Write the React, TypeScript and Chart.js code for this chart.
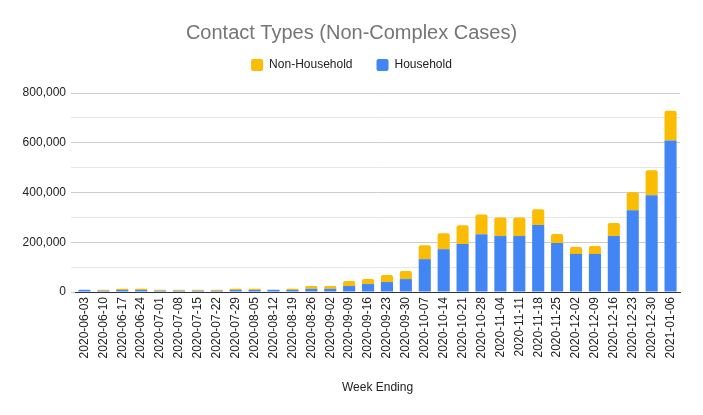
import React, { useEffect, useRef } from "react";
import { Chart, registerables } from "chart.js";

Chart.register(...registerables);

const categories = [
  "2020-06-03", "2020-06-10", "2020-06-17", "2020-06-24", "2020-07-01", "2020-07-08",
  "2020-07-15", "2020-07-22", "2020-07-29", "2020-08-05", "2020-08-12", "2020-08-19",
  "2020-08-26", "2020-09-02", "2020-09-09", "2020-09-16", "2020-09-23", "2020-09-30",
  "2020-10-07", "2020-10-14", "2020-10-21", "2020-10-28", "2020-11-04", "2020-11-11",
  "2020-11-18", "2020-11-25", "2020-12-02", "2020-12-09", "2020-12-16", "2020-12-23",
  "2020-12-30", "2021-01-06",
];

const household = [
  9000, 5000, 8000, 8000, 5000, 5000, 5000, 5000, 8000, 8000, 9000, 8000,
  13000, 13000, 24000, 32000, 40000, 52000, 132000, 172000, 193000, 232000, 225000, 225000,
  269000, 197000, 153000, 153000, 225000, 329000, 389000, 609000,
];

const nonHousehold = [
  0, 4000, 5000, 5000, 4000, 4000, 4000, 4000, 5000, 5000, 500, 5000,
  11000, 11000, 20000, 20000, 28000, 32000, 56000, 64000, 75000, 80000, 75000, 75000,
  64000, 36000, 28000, 32000, 52000, 72000, 100000, 120000,
];

const yTicks = [0, 200000, 400000, 600000, 800000];

const FONT = "'Liberation Sans', Arial, sans-serif";

export default function App() {
  const ref = useRef<HTMLCanvasElement | null>(null);

  useEffect(() => {
    document.body.style.margin = "0";
    const canvas = ref.current;
    if (!canvas) return;

    const legendHeight = {
      id: "legendHeight",
      beforeLayout(chart: any) {
        const lg = chart.legend;
        if (lg && !lg._patched) {
          const orig = lg.fit.bind(lg);
          lg.fit = function () {
            orig();
            this.height = 58;
          };
          lg._patched = true;
        }
      },
    };

    const chart = new Chart(canvas, {
      type: "bar",
      data: {
        labels: categories,
        datasets: [
          {
            label: "Household",
            data: household,
            backgroundColor: "#4285F4",
            borderRadius: 2,
            barPercentage: 0.64,
            categoryPercentage: 1,
          },
          {
            label: "Non-Household",
            data: nonHousehold,
            backgroundColor: "#FBBC04",
            borderRadius: 2,
            barPercentage: 0.64,
            categoryPercentage: 1,
          },
        ],
      },
      plugins: [legendHeight],
      options: {
        responsive: false,
        animation: false,
        layout: { padding: 0 },
        plugins: {
          title: {
            display: true,
            text: "Contact Types (Non-Complex Cases)",
            color: "#757575",
            font: { family: FONT, size: 20, weight: "normal" },
            padding: { top: 21, bottom: -10 },
          },
          legend: {
            display: true,
            reverse: true,
            labels: {
              color: "#222222",
              font: { family: FONT, size: 12 },
              boxWidth: 12,
              boxHeight: 12,
              useBorderRadius: true,
              borderRadius: 2,
              padding: 24,
            },
          },
          tooltip: { enabled: false },
        },
        scales: {
          x: {
            stacked: true,
            grid: { display: false, drawTicks: false },
            border: { display: true, color: "#333333", width: 1 },
            ticks: {
              color: "#222222",
              font: { family: FONT, size: 12 },
              maxRotation: 90,
              minRotation: 90,
              autoSkip: false,
              padding: 5,
            },
            title: {
              display: true,
              text: "Week Ending",
              color: "#222222",
              font: { family: FONT, size: 12 },
              padding: { top: 0, bottom: 20 },
            },
            afterFit(scale: any) {
              scale.height = 123;
            },
          },
          y: {
            stacked: true,
            min: 0,
            max: 800000,
            grid: {
              color: (ctx: any) =>
                ctx.tick && yTicks.includes(ctx.tick.value) ? "#cccccc" : "#e6e6e6",
              tickLength: 4,
              drawTicks: true,
            },
            border: { display: false },
            ticks: {
              stepSize: 100000,
              autoSkip: false,
              color: "#222222",
              font: { family: FONT, size: 12 },
              padding: 5,
              callback: (value: any) =>
                yTicks.includes(Number(value)) ? Number(value).toLocaleString("en-US") : "",
            },
            afterFit(scale: any) {
              scale.width = 75;
            },
          },
          yRight: {
            type: "linear",
            position: "right",
            display: true,
            grid: { display: false, drawTicks: false },
            border: { display: false },
            ticks: { display: false },
            afterFit(scale: any) {
              scale.width = 23;
            },
          },
        },
      },
    } as any);

    return () => {
      chart.destroy();
    };
  }, []);

  return (
    <div style={{ width: 703, height: 415 }}>
      <canvas ref={ref} width={703} height={415} />
    </div>
  );
}
